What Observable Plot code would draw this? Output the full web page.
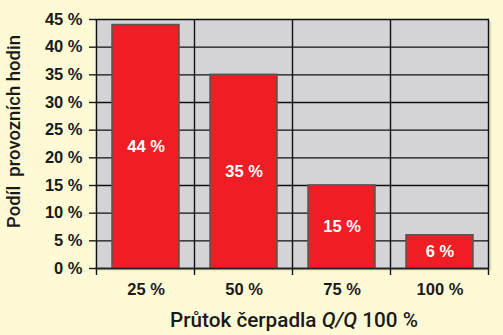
<!DOCTYPE html>
<html><head><meta charset="utf-8">
<script src="https://cdn.jsdelivr.net/npm/d3@7"></script>
<script src="https://cdn.jsdelivr.net/npm/@observablehq/plot@0.6"></script>
<style>
html,body{margin:0;padding:0;background:#fffad6;}
#chart svg{display:block;}
</style></head><body><div id="chart"></div>
<script>
const categories = ["25 %", "50 %", "75 %", "100 %"];
const values = [44, 35, 15, 6];
const yTicks = [0, 5, 10, 15, 20, 25, 30, 35, 40, 45];
const yTitle = "Podíl  provozních hodin";
const xTitleParts = [["Průtok čerpadla ", "normal"], ["Q/Q", "italic"], [" 100 %", "normal"]];

const data = categories.map((c, i) => ({c, v: values[i]}));
const FONT = "'Liberation Sans', Arial, Helvetica, sans-serif";
const TFONT = "Roboto, 'Liberation Sans', Arial, sans-serif";
const INK = "#1a1a1a";
const LS = "letter-spacing:0.5px";

function bandGrid(extend) {
  return (index, scales, vals, dims) => {
    const x = scales.x, y = scales.y;
    const bw = typeof x.bandwidth === "function" ? x.bandwidth() : x.bandwidth;
    const st = typeof x.step === "function" ? x.step() : (dims.width - dims.marginLeft - dims.marginRight) / categories.length;
    const off = (st - bw) / 2;
    const xs = categories.map(c => x(c) - off);
    xs.push(x(categories[categories.length - 1]) + bw + off);
    const g = d3.create("svg:g");
    for (const px of xs) {
      g.append("line").attr("x1", px).attr("x2", px)
        .attr("y1", y(d3.max(yTicks))).attr("y2", y(0) + extend)
        .attr("stroke", "#111").attr("stroke-width", 1.4);
    }
    return g.node();
  };
}

function xTitle() {
  return (index, scales, vals, dims) => {
    const cx = (dims.marginLeft + dims.width - dims.marginRight) / 2 + 2;
    const t = d3.create("svg:text").attr("x", cx).attr("y", dims.height - 8)
      .attr("text-anchor", "middle").attr("font-size", 20.7).attr("font-weight", 500)
      .attr("fill", INK).attr("font-family", TFONT);
    xTitleParts.forEach(([s, st]) => t.append("tspan").attr("font-style", st).text(s));
    return t.node();
  };
}

function yTitleMark() {
  return (index, scales, vals, dims) => {
    const cy = (dims.marginTop + dims.height - dims.marginBottom) / 2 - 12;
    const t = d3.create("svg:text")
      .attr("transform", `translate(14,${cy}) rotate(-90)`)
      .attr("text-anchor", "middle").attr("dy", "0.35em")
      .attr("font-size", 18.5).attr("font-weight", 500).attr("fill", INK).attr("font-family", TFONT)
      .attr("xml:space", "preserve").style("white-space", "pre")
      .text(yTitle);
    return t.node();
  };
}

const plot = Plot.plot({
  width: 503, height: 335,
  marginLeft: 95, marginRight: 14, marginTop: 19, marginBottom: 67,
  style: {background: "transparent", fontFamily: FONT, color: INK},
  x: {domain: categories, paddingInner: 0.32, paddingOuter: 0.16, label: null, axis: null},
  y: {domain: [0, 45], label: null, axis: null},
  marks: [
    Plot.frame({fill: "#e6dfb4", stroke: null, dx: 2, dy: 2}),
    Plot.frame({fill: "#d3d3d8", stroke: null}),
    Plot.gridY(yTicks, {stroke: "#111", strokeOpacity: 1, strokeWidth: 1.4}),
    Plot.ruleY([0], {render: bandGrid(7)}),
    Plot.barY(data, {x: "c", y: "v", fill: "#ee1d26", stroke: "#555", strokeWidth: 1.5}),
    Plot.text(data, {x: "c", y: d => d.v / 2, text: d => d.v + " %", fill: "white", fontWeight: "bold", fontSize: 16.5, style: LS}),
    Plot.axisY(yTicks, {tickFormat: () => "", tickSize: 6, tickPadding: 0, stroke: INK, strokeWidth: 1.4, label: null}),
    Plot.text(yTicks, {y: d => d, text: d => d + " %", frameAnchor: "left", textAnchor: "end", dx: -13, fontSize: 16.5, fontWeight: "bold", fill: INK, style: LS}),
    Plot.text(categories, {x: d => d, text: d => d, frameAnchor: "bottom", dy: 26, fontSize: 16.5, fontWeight: "bold", fill: INK, style: LS}),
    Plot.ruleY([0], {stroke: "#222", strokeWidth: 1.6}),
    Plot.ruleY([0], {render: xTitle()}),
    Plot.ruleY([0], {render: yTitleMark()})
  ]
});
document.getElementById("chart").append(plot);
</script></body></html>
